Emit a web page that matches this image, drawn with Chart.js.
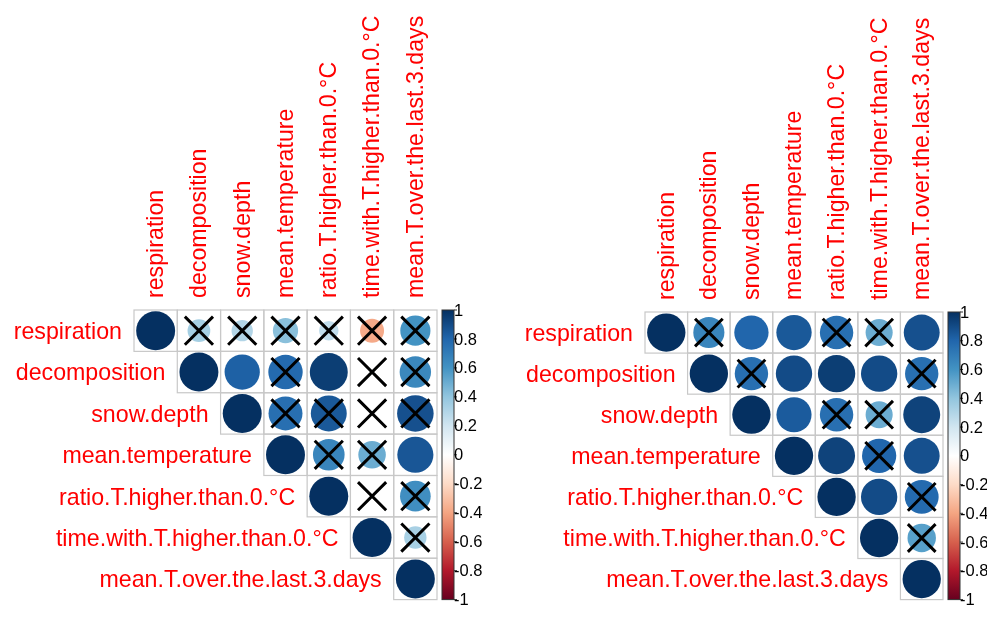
<!DOCTYPE html>
<html>
<head>
<meta charset="utf-8">
<script src="https://cdn.jsdelivr.net/npm/chart.js@4.4.0/dist/chart.umd.min.js"></script>
<style>
  html, body { margin: 0; padding: 0; background: #fff; }
  #wrap { position: relative; width: 987px; height: 621px; }
  canvas { position: absolute; top: 0; }
</style>
</head>
<body>
<div id="wrap">
  <canvas id="leftChart" width="494" height="621" style="left:0"></canvas>
  <canvas id="rightChart" width="493" height="621" style="left:494px"></canvas>
</div>
<script>
const varNames = ['respiration', 'decomposition', 'snow.depth', 'mean.temperature',
  'ratio.T.higher.than.0.°C', 'time.with.T.higher.than.0.°C', 'mean.T.over.the.last.3.days'];

// upper triangle only, null = lower half (not drawn)
const corrLeft = [
  [1, 0.34, 0.30, 0.42, 0.25, -0.38, 0.60],
  [null, 1, 0.82, 0.78, 0.95, 0.02, 0.65],
  [null, null, 1, 0.76, 0.85, 0.01, 0.88],
  [null, null, null, 1, 0.66, 0.50, 0.86],
  [null, null, null, null, 1, 0.01, 0.62],
  [null, null, null, null, null, 1, 0.33],
  [null, null, null, null, null, null, 1]
];
// 1 = not significant -> crossed out
const crossLeft = [
  [0, 1, 1, 1, 1, 1, 1],
  [0, 0, 0, 1, 0, 1, 1],
  [0, 0, 0, 1, 1, 1, 1],
  [0, 0, 0, 0, 1, 1, 0],
  [0, 0, 0, 0, 0, 1, 1],
  [0, 0, 0, 0, 0, 0, 1],
  [0, 0, 0, 0, 0, 0, 0]
];

const corrRight = [
  [1, 0.66, 0.80, 0.85, 0.76, 0.50, 0.88],
  [null, 1, 0.76, 0.90, 0.95, 0.90, 0.76],
  [null, null, 1, 0.84, 0.76, 0.50, 0.93],
  [null, null, null, 1, 0.93, 0.80, 0.88],
  [null, null, null, null, 1, 0.90, 0.78],
  [null, null, null, null, null, 1, 0.55],
  [null, null, null, null, null, null, 1]
];
const crossRight = [
  [0, 1, 0, 0, 1, 1, 0],
  [0, 0, 1, 0, 0, 0, 1],
  [0, 0, 0, 0, 1, 1, 0],
  [0, 0, 0, 0, 0, 1, 0],
  [0, 0, 0, 0, 0, 0, 1],
  [0, 0, 0, 0, 0, 0, 1],
  [0, 0, 0, 0, 0, 0, 0]
];

const barTicks = [1, 0.8, 0.6, 0.4, 0.2, 0, -0.2, -0.4, -0.6, -0.8, -1];
const barLabels = ['1', '0.8', '0.6', '0.4', '0.2', '0', '-0.2', '-0.4', '-0.6', '-0.8', '-1'];

// RdBu palette used by corrplot
const palette = ['#67001F', '#B2182B', '#D6604D', '#F4A582', '#FDDBC7', '#FFFFFF',
  '#D1E5F0', '#92C5DE', '#4393C3', '#2166AC', '#053061'];

function hex2rgb(h) {
  return [parseInt(h.slice(1, 3), 16), parseInt(h.slice(3, 5), 16), parseInt(h.slice(5, 7), 16)];
}
function corrColor(v) {
  const t = (v + 1) / 2 * (palette.length - 1);
  const i = Math.min(Math.floor(t), palette.length - 2);
  const f = t - i;
  const a = hex2rgb(palette[i]), b = hex2rgb(palette[i + 1]);
  const c = a.map((x, k) => Math.round(x + (b[k] - x) * f));
  return 'rgb(' + c.join(',') + ')';
}

const labelFont = '23.2px "Liberation Sans", Arial, sans-serif';

const corrDecor = {
  id: 'corrDecor',
  beforeDatasetsDraw(chart) {
    const ctx = chart.ctx, xs = chart.scales.x, ys = chart.scales.y;
    const n = varNames.length;
    ctx.save();
    ctx.strokeStyle = '#c8c8c8';
    ctx.lineWidth = 1.2;
    for (let i = 0; i < n; i++) {
      for (let j = i; j < n; j++) {
        const x0 = xs.getPixelForValue(j - 0.5), x1 = xs.getPixelForValue(j + 0.5);
        const y0 = ys.getPixelForValue(i - 0.5), y1 = ys.getPixelForValue(i + 0.5);
        ctx.strokeRect(x0, y0, x1 - x0, y1 - y0);
      }
    }
    ctx.restore();
  },
  afterDraw(chart) {
    const ctx = chart.ctx, xs = chart.scales.x, ys = chart.scales.y;
    const area = chart.chartArea;
    const n = varNames.length;
    ctx.save();
    ctx.font = labelFont;
    ctx.fillStyle = '#ff0000';
    // row labels next to the diagonal
    ctx.textAlign = 'right';
    ctx.textBaseline = 'middle';
    varNames.forEach((name, i) => {
      ctx.fillText(name, xs.getPixelForValue(i - 0.5) - 12, ys.getPixelForValue(i) + 2);
    });
    // column labels on top, vertical
    ctx.textAlign = 'left';
    varNames.forEach((name, j) => {
      ctx.save();
      ctx.translate(xs.getPixelForValue(j) + 1, area.top - 12);
      ctx.rotate(-Math.PI / 2);
      ctx.fillText(name, 0, 0);
      ctx.restore();
    });

    // colour bar
    const bx = area.right + 5, bw = 12;
    const yTop = ys.getPixelForValue(-0.5), yBot = ys.getPixelForValue(n - 0.5);
    const grad = ctx.createLinearGradient(0, yBot, 0, yTop);
    palette.forEach((c, k) => grad.addColorStop(k / (palette.length - 1), c));
    ctx.fillStyle = grad;
    ctx.fillRect(bx, yTop, bw, yBot - yTop);
    ctx.strokeStyle = '#333';
    ctx.lineWidth = 1;
    ctx.strokeRect(bx, yTop, bw, yBot - yTop);
    ctx.font = '16.5px "Liberation Sans", Arial, sans-serif';
    ctx.fillStyle = '#000';
    ctx.textAlign = 'left';
    ctx.textBaseline = 'middle';
    barTicks.forEach((v, k) => {
      const y = ys.getPixelForValue(-0.5 + (1 - v) / 2 * n);
      ctx.beginPath();
      ctx.moveTo(bx + bw, y);
      ctx.lineTo(bx + bw + 3, y);
      ctx.stroke();
      ctx.fillText(barLabels[k], bx + bw, y + 1);
    });
    ctx.restore();
  }
};

function cellSize(chart) {
  const a = chart.chartArea;
  return a ? (a.right - a.left) / varNames.length : 40;
}

function makeChart(id, corr, cross, pad) {
  const circles = [], marks = [];
  corr.forEach((row, i) => row.forEach((v, j) => {
    if (v === null) return;
    circles.push({ x: j, y: i, v: v });
    if (cross[i][j]) marks.push({ x: j, y: i });
  }));
  return new Chart(document.getElementById(id).getContext('2d'), {
    type: 'scatter',
    data: {
      datasets: [{
        data: circles,
        order: 2,
        pointStyle: 'circle',
        pointRadius: c => 0.45 * cellSize(c.chart) * Math.sqrt(Math.abs(c.raw.v)),
        backgroundColor: c => corrColor(c.raw.v),
        borderWidth: 0
      }, {
        data: marks,
        order: 1,
        pointStyle: 'crossRot',
        pointRadius: c => 0.46 * cellSize(c.chart),
        borderColor: '#000',
        borderWidth: 3
      }]
    },
    plugins: [corrDecor],
    options: {
      responsive: false,
      animation: false,
      events: [],
      layout: { padding: pad },
      plugins: { legend: { display: false }, tooltip: { enabled: false } },
      scales: {
        x: { type: 'linear', min: -0.5, max: 6.5, display: false },
        y: { type: 'linear', min: -0.5, max: 6.5, reverse: true, display: false }
      }
    }
  });
}

makeChart('leftChart', corrLeft, crossLeft, { left: 134, right: 57, top: 310, bottom: 8 });
makeChart('rightChart', corrRight, crossRight, { left: 151, right: 44, top: 312, bottom: 11 });
</script>
</body>
</html>
